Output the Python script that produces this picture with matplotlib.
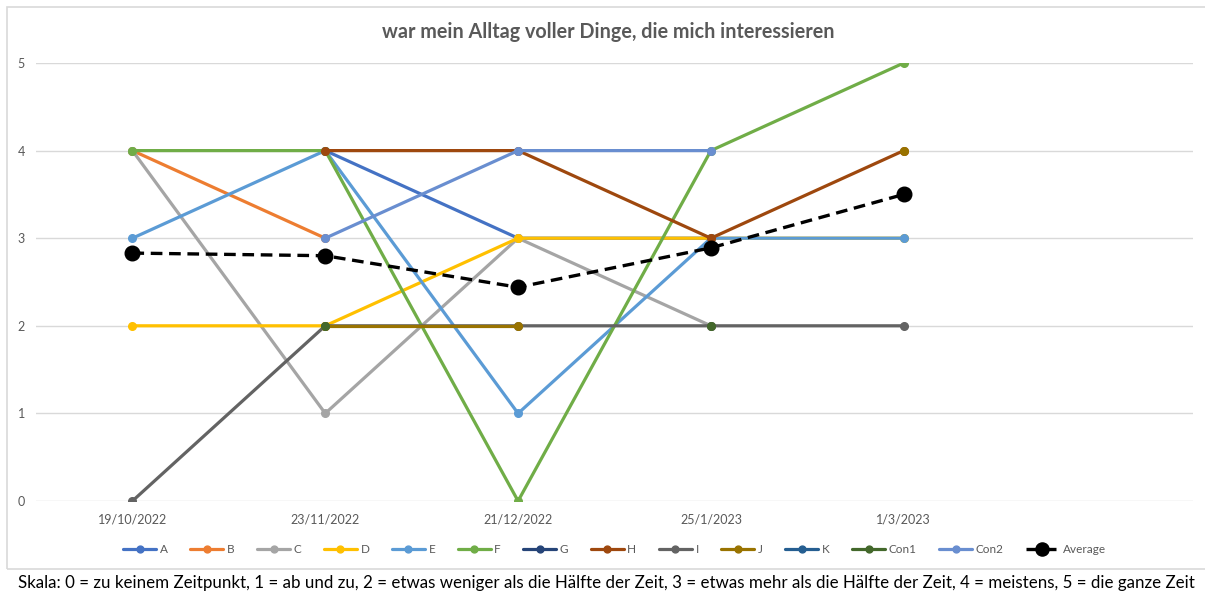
import numpy as np
import matplotlib
matplotlib.use('Agg')
import matplotlib.pyplot as plt
from matplotlib.patches import Rectangle

plt.rcParams['font.family'] = ['Lato', 'DejaVu Sans']

nan = np.nan

# Erhebungstermine (6. Kategorie ist leer)
dates = ['19/10/2022', '23/11/2022', '21/12/2022', '25/1/2023', '1/3/2023', '']

# Werte je Person (nan = kein Wert)
A = [nan, 4, 3, 3, nan]
B = [4, 3, nan, nan, nan]
C = [4, 1, 3, 2, nan]
D = [2, 2, 3, 3, 3]
E = [3, 4, 1, 3, 3]
F = [4, 4, 0, 4, 5]
G = [nan, nan, nan, nan, nan]
H = [nan, 4, 4, 3, 4]
I = [0, 2, 2, 2, 2]
J = [nan, 2, 2, nan, 4]
K = [nan, nan, nan, nan, nan]
Con1 = [nan, 2, nan, 2, nan]
Con2 = [nan, 3, 4, 4, nan]
average = [2.83, 2.8, 2.44, 2.89, 3.5]

names = ['A', 'B', 'C', 'D', 'E', 'F', 'G', 'H', 'I', 'J', 'K', 'Con1', 'Con2']
series = [A, B, C, D, E, F, G, H, I, J, K, Con1, Con2]
colors = ['#4472C4', '#ED7D31', '#A5A5A5', '#FFC000', '#5B9BD5', '#70AD47',
          '#264478', '#9E480E', '#636363', '#997300', '#255E91', '#43682B', '#698ED0']

fig = plt.figure(figsize=(12.05, 5.92), dpi=100)
ax = fig.add_axes([36/1205, 91/592, (1193-36)/1205, (501-63)/592])

x = np.arange(len(dates) - 1)
for name, vals, col in zip(names, series, colors):
    ax.plot(x, vals, color=col, lw=2.3, marker='o', markersize=5.5, label=name,
            solid_capstyle='round')
ax.plot(x, average, color='black', lw=2.4, ls=(0, (3.5, 2)), marker='o', markersize=10.5,
        label='Average')

ax.set_xlim(-0.5, len(dates) - 0.5)
ax.set_ylim(0, 5)
ax.set_xticks(np.arange(len(dates)))
ax.set_xticklabels(dates)
ax.set_yticks(range(6))
ax.tick_params(axis='both', length=0, labelsize=9, colors='#595959')
ax.tick_params(axis='x', pad=9)
ax.tick_params(axis='y', pad=8)
ax.grid(axis='y', color='#D9D9D9', lw=1)
ax.set_axisbelow(True)
for s in ax.spines.values():
    s.set_visible(False)

leg = ax.legend(loc='center', bbox_to_anchor=(0.5, -0.11), ncol=14, frameon=False,
                fontsize=8.5, labelcolor='#595959', handlelength=2.8, handletextpad=0.3,
                columnspacing=1.9, markerscale=0.9)

fig.text(608/1205, 1 - 32/592, 'war mein Alltag voller Dinge, die mich interessieren',
         ha='center', va='center', fontsize=14.2, fontweight='bold', color='#595959')
fig.text(18/1205, 1 - 583/592,
         'Skala: 0 = zu keinem Zeitpunkt, 1 = ab und zu, 2 = etwas weniger als die Hälfte der Zeit, '
         '3 = etwas mehr als die Hälfte der Zeit, 4 = meistens, 5 = die ganze Zeit',
         ha='left', va='center', fontsize=12.2, color='black')

# Rahmen des Diagrammbereichs
fig.patches.append(Rectangle((7/1205, 1 - 569/592), 1.1, (569-7)/592, transform=fig.transFigure,
                             fill=False, edgecolor='#D9D9D9', lw=1.2))

fig.savefig('out.png', dpi=100)
